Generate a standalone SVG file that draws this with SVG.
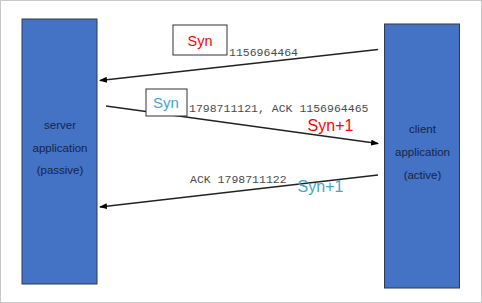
<svg xmlns="http://www.w3.org/2000/svg" width="482" height="303" viewBox="0 0 482 303">
<defs>
<marker id="ah" markerWidth="8" markerHeight="6" refX="7" refY="3" orient="auto" markerUnits="userSpaceOnUse">
<path d="M0,0 L8,3 L0,6 Z" fill="#000"/>
</marker>
<style>
.box{fill:#4472C4;stroke:#2f3a4f;stroke-width:1}
.lbl{font-family:"Liberation Sans",Arial,sans-serif;font-size:11.5px;fill:#16254a;text-anchor:middle}
.mono{font-family:"Liberation Mono","Courier New",monospace;font-size:11.5px;fill:#4a4a4a}
.tag{fill:#fff;stroke:#333;stroke-width:1}
.syn{font-family:"Liberation Sans",Arial,sans-serif;text-anchor:middle}
.ln{stroke:#222;stroke-width:1.3;fill:none;marker-end:url(#ah)}
</style>
</defs>
<rect x="0.5" y="0.5" width="481" height="302" fill="#fff" stroke="#c8c8c8"/>
<g id="server">
<rect class="box" x="22" y="19" width="75" height="265"/>
<text class="lbl" x="60" y="128.5">server</text>
<text class="lbl" x="60" y="151.5">application</text>
<text class="lbl" x="60" y="174">(passive)</text>
</g>
<g id="client">
<rect class="box" x="384.5" y="24" width="75" height="264"/>
<text class="lbl" x="422.5" y="132.5">client</text>
<text class="lbl" x="422.5" y="155.5">application</text>
<text class="lbl" x="422.5" y="178.5">(active)</text>
</g>
<g id="connectors">
<line class="ln" x1="378" y1="49.5" x2="100" y2="80.5"/>
<line class="ln" x1="106" y1="106" x2="378" y2="143.5"/>
<line class="ln" x1="378" y1="175" x2="100" y2="207"/>
</g>
<g id="label1">
<rect class="tag" x="173" y="25" width="54" height="30"/>
<text class="syn" x="200" y="46" font-size="14.5" fill="#ff0000">Syn</text>
<text class="mono" x="229" y="56">1156964464</text>
</g>
<g id="label2">
<rect class="tag" x="146" y="89" width="41" height="27"/>
<text class="syn" x="166" y="108" font-size="15" fill="#3fa7c9">Syn</text>
<text class="mono" x="189" y="112">1798711121, ACK 1156964465</text>
<text class="syn" x="330.5" y="131" font-size="16" fill="#ff0000">Syn+1</text>
</g>
<g id="label3">
<text class="mono" x="190" y="183">ACK 1798711122</text>
<text class="syn" x="320.5" y="192" font-size="16" fill="#3fa7c9">Syn+1</text>
</g>
</svg>
